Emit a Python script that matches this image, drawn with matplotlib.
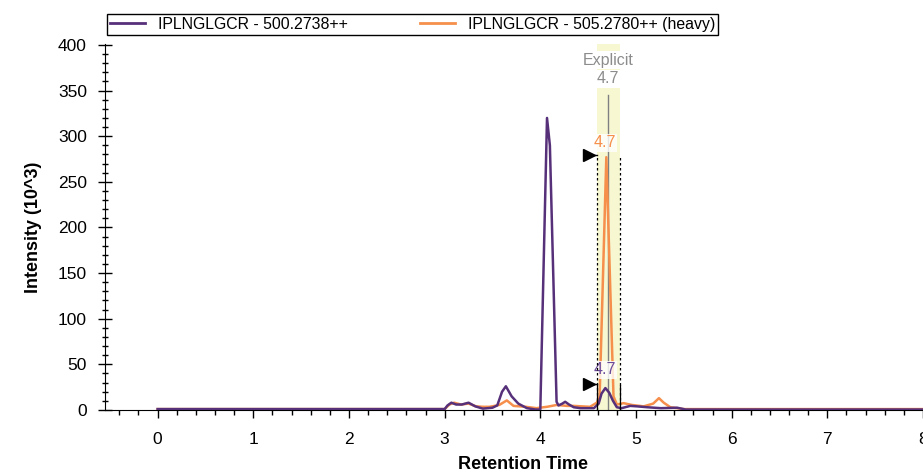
import matplotlib
matplotlib.use("Agg")
import matplotlib.pyplot as plt
from matplotlib.ticker import MultipleLocator
from matplotlib.lines import Line2D

plt.rcParams['font.family'] = ['Liberation Sans', 'DejaVu Sans']

# Data (retention time, intensity in 10^3)
light_label = "IPLNGLGCR - 500.2738++"
heavy_label = "IPLNGLGCR - 505.2780++ (heavy)"

light_t = [0.0, 3.0, 3.03, 3.07, 3.12, 3.18, 3.25, 3.32, 3.40, 3.50, 3.55, 3.60, 3.64, 3.70,
           3.77, 3.86, 3.95, 4.00, 4.07, 4.10, 4.17, 4.19, 4.23, 4.26, 4.30, 4.35, 4.42,
           4.56, 4.61, 4.64, 4.68, 4.72, 4.76, 4.80, 4.85, 4.94, 5.01, 5.12, 5.26, 5.43,
           5.52, 8.0]
light_y = [1, 1, 5, 8, 6, 6, 8, 4, 1.5, 2.5, 5, 20, 26, 15,
           7, 2, 0.5, 0.5, 320, 290, 9, 5, 7, 9, 6, 3, 2,
           2, 7, 18, 24, 19, 10, 3, 2, 4.5, 4, 3, 2, 2.5,
           0.5, 0.5]

heavy_t = [0.0, 3.0, 3.05, 3.10, 3.17, 3.25, 3.33, 3.40, 3.47, 3.57, 3.65, 3.72, 3.85,
           3.96, 4.07, 4.17, 4.28, 4.35, 4.52, 4.59, 4.62, 4.69, 4.765, 4.80, 4.87, 4.96,
           5.08, 5.18, 5.24, 5.29, 5.36, 5.50, 8.0]
heavy_y = [1, 1, 6, 8, 6, 7, 4, 3.5, 3.5, 5.5, 10.5, 4.5, 3.5,
           2, 3.5, 5.5, 4.5, 4.5, 3.5, 8, 15, 277, 15, 6, 7.5, 5.5,
           4, 7, 13, 8, 3, 1, 1]

peak_rt = 4.71
peak_label = "4.7"
boundary_start, boundary_end = 4.59, 4.83
explicit_top = 345
heavy_apex = 277
light_apex = 27

light_color = "#57307a"
heavy_color = "#f68f4b"

fig = plt.figure(figsize=(9.23, 4.74), dpi=100)
ax = fig.add_axes([105/923, 64/474, 818/923, (410-44)/474])

ax.axvspan(boundary_start, boundary_end, color="#f7f7d2", zorder=0, lw=0)
ax.plot([peak_rt, peak_rt], [0, explicit_top], color="#7f7f7f", lw=1, zorder=1)

ax.plot(heavy_t, heavy_y, color=heavy_color, lw=1.8, zorder=2, solid_joinstyle='round')
ax.plot(light_t, light_y, color=light_color, lw=1.8, zorder=3, solid_joinstyle='round')

# integration boundaries
for xb in (boundary_start, boundary_end):
    ax.plot([xb, xb], [0, heavy_apex], color="black", lw=0.9, ls=(0, (2, 2)), zorder=4)
    ax.plot([xb, xb], [0, light_apex], color="black", lw=0.9, zorder=4)

# arrows
for yv in (heavy_apex + 2, light_apex + 2):
    ax.plot([4.50, boundary_start], [yv, yv], color="black", lw=1, zorder=5)
    ax.plot([4.51], [yv], marker=">", color="black", ms=8, zorder=5)

lab_fs = 11.5
ax.text(peak_rt, 383, "Explicit", color="#8c8c8c", ha="center", va="center", fontsize=lab_fs,
        bbox=dict(facecolor="white", edgecolor="none", pad=1))
ax.text(peak_rt, 363, peak_label, color="#8c8c8c", ha="center", va="center", fontsize=lab_fs,
        bbox=dict(facecolor="white", edgecolor="none", pad=1))
ax.text(4.67, 293, peak_label, color=heavy_color, ha="center", va="center", fontsize=lab_fs,
        bbox=dict(facecolor="white", edgecolor="none", alpha=0.8, pad=1))
ax.text(4.67, 44, peak_label, color="#6a4a9a", ha="center", va="center", fontsize=lab_fs,
        bbox=dict(facecolor="white", edgecolor="none", alpha=0.8, pad=1))

ax.set_xlim(-0.55, 8.0)
ax.set_ylim(0, 401)
ax.xaxis.set_major_locator(MultipleLocator(1))
ax.xaxis.set_minor_locator(MultipleLocator(0.2))
ax.yaxis.set_major_locator(MultipleLocator(50))
ax.yaxis.set_minor_locator(MultipleLocator(10))

ax.spines['top'].set_visible(False)
ax.spines['right'].set_visible(False)
ax.tick_params(axis='y', which='major', direction='inout', length=10, width=1, labelsize=12.5, pad=8)
ax.tick_params(axis='y', which='minor', direction='inout', length=5, width=1)
ax.tick_params(axis='x', which='major', direction='out', length=6, width=1, labelsize=12.5, pad=10)
ax.tick_params(axis='x', which='minor', direction='out', length=3.5, width=1)

ax.set_xlabel("Retention Time", fontsize=13, fontweight="bold")
ax.xaxis.set_label_coords((523-105)/818, -46/366)
ax.set_ylabel("Intensity (10^3)", fontsize=13, fontweight="bold")
ax.yaxis.set_label_coords((42-105)/818, 0.5)

handles = [Line2D([], [], color=light_color, lw=2), Line2D([], [], color=heavy_color, lw=2)]
leg = fig.legend(handles, [light_label, heavy_label], ncol=2,
                 bbox_to_anchor=(107/923, (474-35)/474), loc="lower left",
                 fontsize=11.4, frameon=True, fancybox=False, edgecolor="black", framealpha=1,
                 handlelength=2.2, handletextpad=0.8, columnspacing=4.6,
                 borderaxespad=0, borderpad=0.2)
leg.get_frame().set_linewidth(1)

fig.savefig("out.png", dpi=100)
